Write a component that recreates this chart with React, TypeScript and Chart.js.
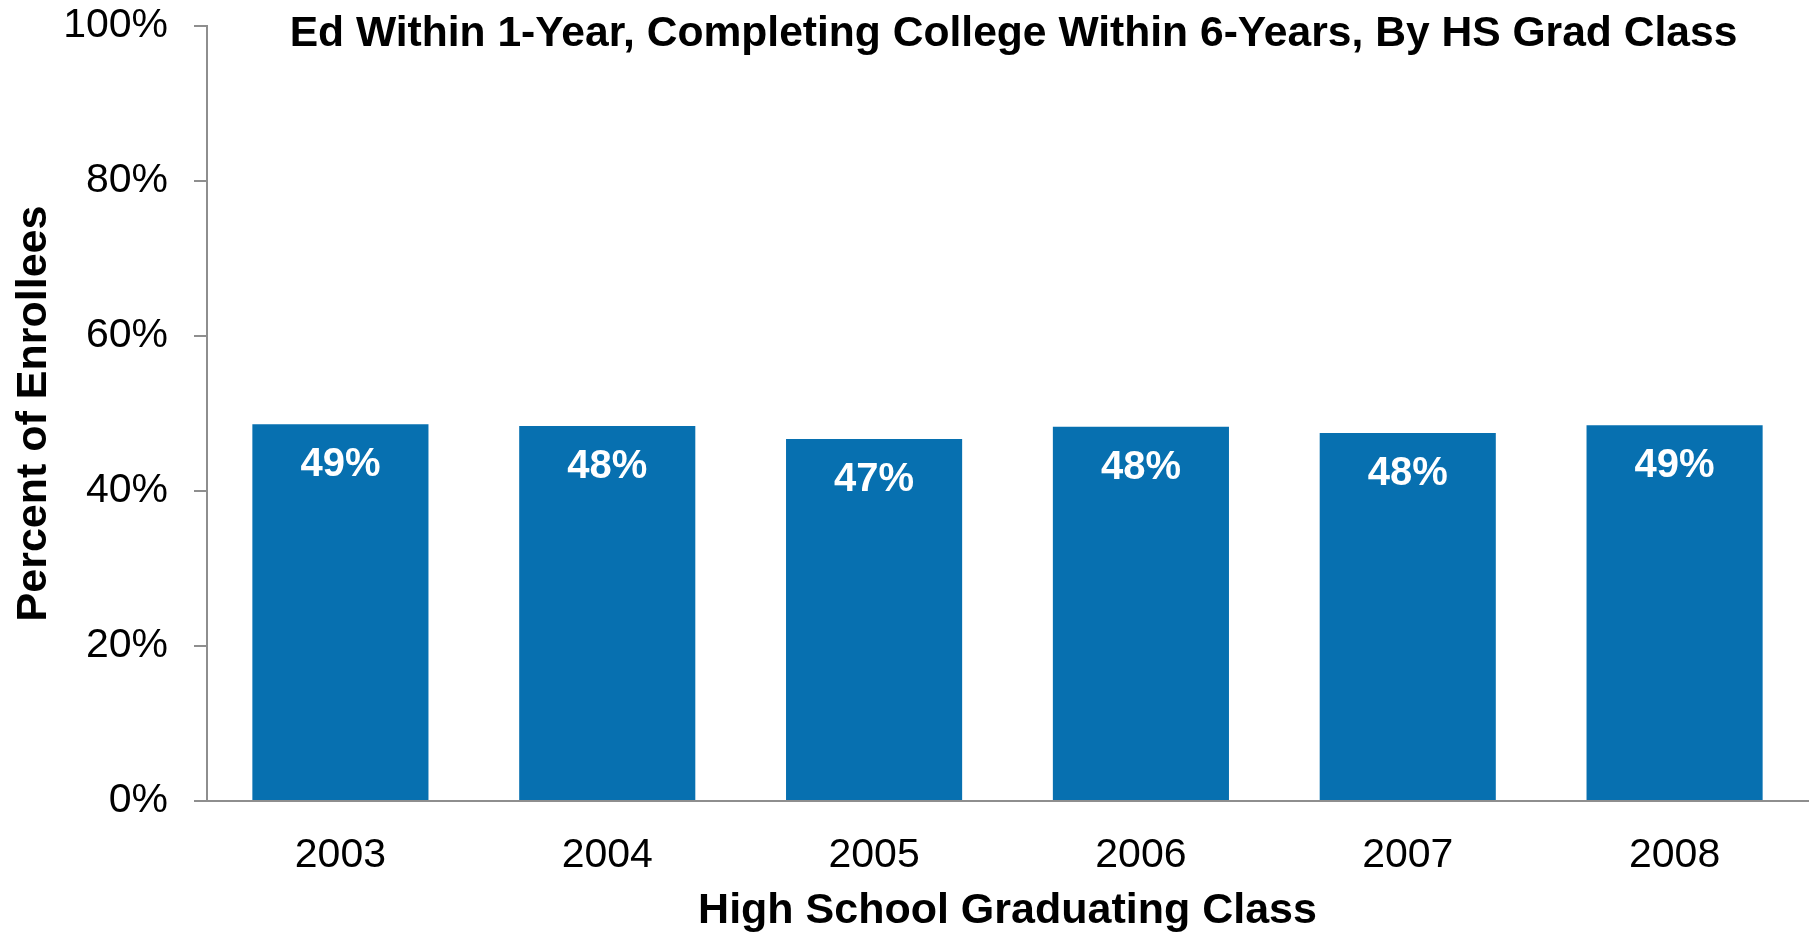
import React, { useEffect, useRef } from "react";
import { Chart, registerables } from "chart.js";

Chart.register(...registerables);

const categories = ["2003", "2004", "2005", "2006", "2007", "2008"];
const values = [48.6, 48.4, 46.7, 48.3, 47.5, 48.5];
const valueLabels = ["49%", "48%", "47%", "48%", "48%", "49%"];
const titleText = "Ed Within 1-Year, Completing College Within 6-Years, By HS Grad Class";
const xTitle = "High School Graduating Class";
const yTitle = "Percent of Enrollees";

const FONT = '"Liberation Sans", Arial, Helvetica, sans-serif';
const BAR_COLOR = "#0770B0";
const AXIS_COLOR = "#8E8E8E";

export default function App() {
  const ref = useRef<HTMLCanvasElement | null>(null);

  useEffect(() => {
    if (!ref.current) return;
    Chart.defaults.font.family = FONT;

    const labelPlugin = {
      id: "valueLabels",
      afterDatasetsDraw(chart: any) {
        const ctx = chart.ctx;
        const meta = chart.getDatasetMeta(0);
        ctx.save();
        ctx.fillStyle = "#FFFFFF";
        ctx.font = `bold 40px ${FONT}`;
        ctx.textAlign = "center";
        ctx.textBaseline = "middle";
        meta.data.forEach((bar: any, i: number) => {
          ctx.fillText(valueLabels[i], bar.x, bar.y + 41);
        });
        ctx.restore();
      },
    };

    const titlePlugin = {
      id: "topTitle",
      afterDraw(chart: any) {
        const ctx = chart.ctx;
        const area = chart.chartArea;
        ctx.save();
        ctx.fillStyle = "#000000";
        ctx.font = `bold 42.6px ${FONT}`;
        ctx.textAlign = "center";
        ctx.textBaseline = "alphabetic";
        ctx.fillText(titleText, (area.left + area.right) / 2 + 6, 46);
        ctx.restore();
      },
    };

    const chart = new Chart(ref.current, {
      type: "bar",
      data: {
        labels: categories,
        datasets: [
          {
            data: values,
            backgroundColor: BAR_COLOR,
            borderWidth: 0,
            categoryPercentage: 1,
            barPercentage: 0.66,
          },
        ],
      },
      options: {
        responsive: false,
        animation: false,
        layout: { padding: { top: 26, right: 2, left: 0, bottom: 0 } },
        plugins: {
          legend: { display: false },
          tooltip: { enabled: false },
          title: { display: false },
        },
        scales: {
          x: {
            grid: { display: false, drawTicks: false },
            border: { display: true, color: AXIS_COLOR, width: 2 },
            ticks: {
              color: "#000",
              font: { size: 41 },
              padding: 30,
            },
            title: {
              display: true,
              text: xTitle,
              color: "#000",
              font: { size: 43, weight: "bold", lineHeight: 1 },
              padding: 0,
            },
            afterFit: (s: any) => {
              s.height = 132;
              s.paddingLeft = 0;
              s.paddingRight = 0;
            },
          },
          y: {
            min: 0,
            max: 100,
            ticks: {
              stepSize: 20,
              color: "#000",
              font: { size: 41 },
              padding: 26,
              callback: (v: any) => v + "%",
            },
            grid: {
              drawOnChartArea: false,
              tickLength: 13,
              color: AXIS_COLOR,
              lineWidth: 2,
            },
            border: { display: true, color: AXIS_COLOR, width: 2 },
            title: {
              display: true,
              text: yTitle,
              color: "#000",
              font: { size: 43, weight: "bold", lineHeight: 1 },
              padding: 13,
            },
            afterFit: (s: any) => {
              s.width = 207;
              s.paddingTop = 0;
              s.paddingBottom = 0;
            },
          },
        },
      },
      plugins: [labelPlugin, titlePlugin],
    });

    return () => chart.destroy();
  }, []);

  return (
    <div style={{ position: "fixed", left: 0, top: 0, width: 1810, height: 933, background: "#fff" }}>
      <canvas ref={ref} width={1810} height={933} style={{ display: "block" }} />
    </div>
  );
}
